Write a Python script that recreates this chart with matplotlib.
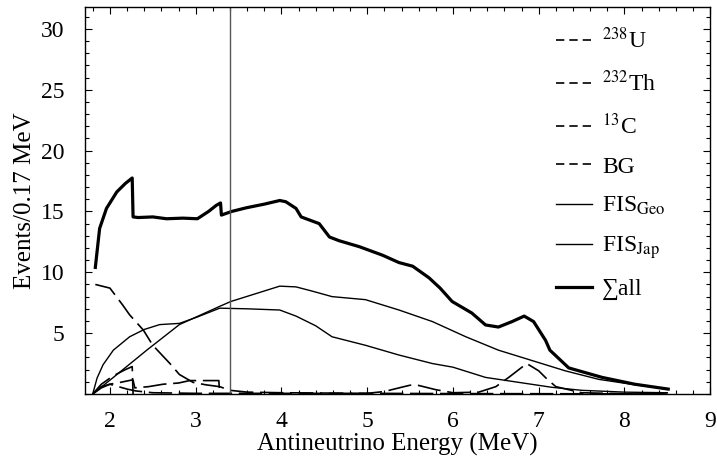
import matplotlib
matplotlib.use("Agg")
from matplotlib import pyplot as plt
from matplotlib.lines import Line2D
from matplotlib.ticker import MultipleLocator

plt.rcParams['font.family'] = ['Liberation Serif', 'DejaVu Serif']
plt.rcParams['mathtext.fontset'] = 'stix'

# Data
sum_x = [1.83, 1.88, 1.96, 2.08, 2.18, 2.26, 2.27, 2.33, 2.5, 2.66, 2.85, 3.02,
         3.15, 3.24, 3.29, 3.30, 3.42, 3.59, 3.8, 3.98, 4.05, 4.17, 4.23, 4.44,
         4.56, 4.67, 4.91, 5.18, 5.37, 5.53, 5.72, 5.85, 5.99, 6.22, 6.38, 6.53,
         6.69, 6.83, 6.94, 7.08, 7.13, 7.35, 7.74, 8.12, 8.51]
sum_y = [10.4, 13.6, 15.25, 16.6, 17.3, 17.75, 14.55, 14.5, 14.55, 14.4, 14.45,
         14.4, 15.0, 15.5, 15.7, 14.7, 15.0, 15.3, 15.6, 15.9, 15.8, 15.25, 14.55,
         14.0, 12.9, 12.6, 12.1, 11.4, 10.8, 10.5, 9.55, 8.7, 7.6, 6.65, 5.67,
         5.5, 5.95, 6.4, 5.95, 4.4, 3.6, 2.14, 1.36, 0.8, 0.4]

fis_jap_x = [1.8, 1.85, 1.92, 2.04, 2.23, 2.4, 2.58, 2.81, 3.01, 3.28, 3.59, 3.98,
             4.17, 4.4, 4.59, 4.98, 5.37, 5.76, 6.0, 6.38, 6.77, 7.15, 7.5, 8.0, 8.5]
fis_jap_y = [0, 1.3, 2.4, 3.6, 4.7, 5.3, 5.7, 5.8, 6.3, 7.05, 7.0, 6.9, 6.4, 5.6,
             4.7, 4.0, 3.2, 2.5, 2.2, 1.36, 0.95, 0.55, 0.3, 0.15, 0.1]

fis_geo_x = [1.8, 2.04, 2.43, 2.81, 3.28, 3.41, 3.98, 4.17, 4.36, 4.59, 4.98, 5.37,
             5.76, 6.15, 6.53, 6.92, 7.31, 7.7, 8.08, 8.5]
fis_geo_y = [0, 1.36, 3.6, 5.7, 7.2, 7.6, 8.86, 8.8, 8.45, 8.0, 7.75, 6.9, 5.95,
             4.7, 3.6, 2.75, 1.9, 1.2, 0.8, 0.4]

bg_x = [1.83, 2.0, 2.15, 2.23, 2.39, 2.5, 2.7, 2.81, 2.97, 3.12, 3.28, 3.4, 3.6,
        4.0, 5.0, 6.0, 7.0, 8.5]
bg_y = [9.0, 8.7, 7.3, 6.5, 5.25, 4.0, 2.5, 1.6, 0.95, 0.75, 0.6, 0.3, 0.15,
        0.1, 0.05, 0.03, 0.02, 0.0]

u_x = [1.8, 1.9, 2.0, 2.12, 2.25, 2.27, 2.29, 2.45, 2.62, 2.8, 2.93, 3.1, 3.27, 3.28]
u_y = [0, 0.5, 0.8, 0.95, 1.14, 1.14, 0.5, 0.6, 0.8, 0.9, 1.1, 1.1, 1.1, 0]

th_x = [1.8, 1.9, 2.0, 2.08, 2.18, 2.26, 2.27]
th_y = [0, 0.8, 1.3, 1.64, 2.0, 2.25, 0]

c13_x = [1.8, 1.9, 2.0, 2.1, 2.2, 2.3, 2.5, 3.0, 4.0, 5.0, 5.2, 5.4, 5.5, 5.6,
         5.8, 6.0, 6.3, 6.5, 6.65, 6.86, 7.0, 7.1, 7.2, 7.5, 8.0, 8.5]
c13_y = [0, 0.6, 0.8, 0.6, 0.4, 0.25, 0.1, 0.05, 0.05, 0.05, 0.2, 0.55, 0.72,
         0.7, 0.35, 0.1, 0.15, 0.6, 1.36, 2.5, 1.9, 1.2, 0.6, 0.1, 0.02, 0]

cut_energy = 3.4

fig = plt.figure(figsize=(7.17, 4.69), dpi=100)
ax = fig.add_axes([0.1186, 0.16, 0.872, 0.825])

dash = (14, 4)
ax.plot(bg_x, bg_y, color='k', lw=1.2, dashes=dash)
ax.plot(u_x, u_y, color='k', lw=1.2, dashes=dash)
ax.plot(th_x, th_y, color='k', lw=1.2, dashes=dash)
ax.plot(c13_x, c13_y, color='k', lw=1.2, dashes=dash)
ax.plot(fis_geo_x, fis_geo_y, color='k', lw=1.0)
ax.plot(fis_jap_x, fis_jap_y, color='k', lw=1.0)
ax.plot(sum_x, sum_y, color='k', lw=2.3)
ax.axvline(cut_energy, color='#555555', lw=1.0)

ax.set_xlim(1.71, 9.0)
ax.set_ylim(0, 31.8)
ax.xaxis.set_major_locator(MultipleLocator(1))
ax.xaxis.set_minor_locator(MultipleLocator(0.2))
ax.set_yticks([5, 10, 15, 20, 25, 30])
ax.yaxis.set_minor_locator(MultipleLocator(1))
ax.tick_params(which='both', direction='in', top=True, right=True,
               labelsize=17, width=0.8)
ax.tick_params(which='major', length=5)
ax.tick_params(which='minor', length=3)
ax.tick_params(axis='x', which='major', pad=12)
ax.tick_params(axis='y', which='major', pad=15)
for s in ax.spines.values():
    s.set_linewidth(1.0)

ax.set_xlabel('Antineutrino Energy (MeV)', fontsize=18, labelpad=1)
ax.set_ylabel('Events/0.17 MeV', fontsize=18, labelpad=3)

labels = ['$^{238}$U', '$^{232}$Th', '$^{13}$C', 'BG',
          'FIS$_{\\mathrm{Geo}}$', 'FIS$_{\\mathrm{Jap}}$', '\u2211all']
handles = [Line2D([], [], color='k', lw=1.2, dashes=(5, 3)) for i in range(4)]
handles += [Line2D([], [], color='k', lw=1.0), Line2D([], [], color='k', lw=1.0),
            Line2D([], [], color='k', lw=2.3)]
ax.legend(handles, labels, loc='upper left', frameon=False, fontsize=17,
          labelspacing=0.73, handlelength=1.55, handletextpad=0.4,
          borderpad=0, borderaxespad=0, bbox_to_anchor=(0.753, 0.947))

plt.savefig('out.png', dpi=100)
